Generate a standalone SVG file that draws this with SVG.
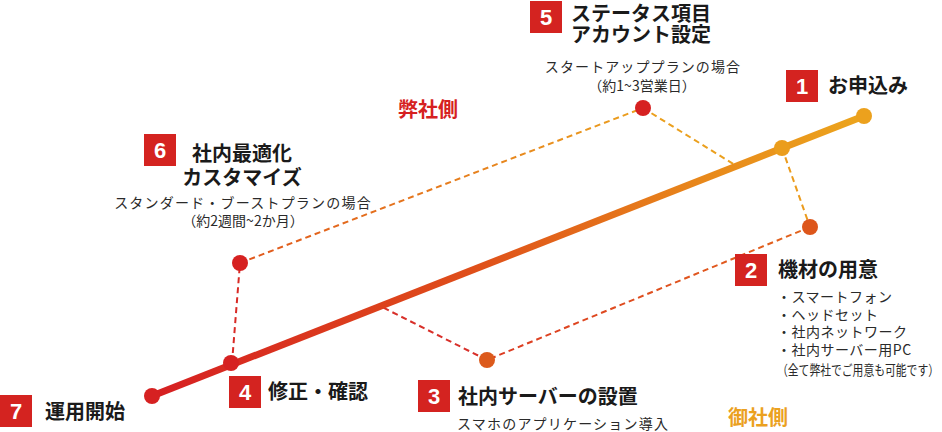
<svg xmlns="http://www.w3.org/2000/svg" width="942" height="432" viewBox="0 0 942 432">
<style>
.t{font-family:"Noto Sans CJK JP","Noto Sans",sans-serif;font-weight:700;font-size:20px;fill:#1a1a1a}
.s{font-family:"Noto Sans CJK JP","Noto Sans",sans-serif;font-weight:400;font-size:14px;fill:#2a2a2a}
.n{font-family:"Liberation Sans",Arial,sans-serif;font-weight:700;font-size:22px;fill:#fff;text-anchor:middle}
.b{fill:#d42320}
.d{fill:none;stroke-width:2;stroke-dasharray:6 4}
</style>
<defs>
<linearGradient id="main" gradientUnits="userSpaceOnUse" x1="152" y1="396" x2="864" y2="116">
<stop offset="0" stop-color="#d61f22"/>
<stop offset="0.45" stop-color="#df4f1a"/>
<stop offset="0.78" stop-color="#e8891b"/>
<stop offset="1" stop-color="#eca51d"/>
</linearGradient>
<linearGradient id="g2" gradientUnits="userSpaceOnUse" x1="810" y1="227" x2="487" y2="360">
<stop offset="0" stop-color="#e2641c"/>
<stop offset="1" stop-color="#dc3a22"/>
</linearGradient>
<linearGradient id="g5" gradientUnits="userSpaceOnUse" x1="240" y1="263" x2="643" y2="108">
<stop offset="0" stop-color="#e0561c"/>
<stop offset="1" stop-color="#eba01e"/>
</linearGradient>
</defs>
<g id="connectors">
<line class="d" x1="782" y1="148" x2="810" y2="227" stroke="#eb9b1c"/>
<line class="d" x1="810" y1="227" x2="487" y2="360" stroke="url(#g2)"/>
<line class="d" x1="487" y1="360" x2="382" y2="307" stroke="#d8302a"/>
<line class="d" x1="232" y1="363" x2="240" y2="263" stroke="#d82a25"/>
<line class="d" x1="240" y1="263" x2="643" y2="108" stroke="url(#g5)"/>
<line class="d" x1="643" y1="108" x2="735" y2="165" stroke="#eba01e"/>
<line x1="152" y1="396" x2="864" y2="116" stroke="url(#main)" stroke-width="7"/>
</g>
<g id="points">
<circle cx="152" cy="396" r="8" fill="#d62121"/>
<circle cx="231" cy="363" r="8" fill="#d62121"/>
<circle cx="240" cy="263" r="8" fill="#d62121"/>
<circle cx="643" cy="108" r="8" fill="#d62121"/>
<circle cx="487" cy="360" r="8" fill="#dc5a1c"/>
<circle cx="810" cy="227" r="8" fill="#dd561b"/>
<circle cx="782" cy="148" r="8" fill="#eb9d1c"/>
<circle cx="864" cy="116" r="8" fill="#eca11d"/>
</g>
<g id="step1">
<rect class="b" x="786" y="70" width="32" height="32"/>
<text class="n" x="802" y="94">1</text>
<text class="t" x="828" y="93">お申込み</text>
</g>
<g id="step2">
<rect class="b" x="735" y="254" width="32" height="32"/>
<text class="n" x="751" y="278">2</text>
<text class="t" x="778" y="277">機材の用意</text>
<text class="s" x="777" y="302" letter-spacing="0.5">・スマートフォン</text>
<text class="s" x="777" y="320" letter-spacing="0.5">・ヘッドセット</text>
<text class="s" x="777" y="337" letter-spacing="0.5">・社内ネットワーク</text>
<text class="s" x="777" y="355" letter-spacing="0.5">・社内サーバー用PC</text>
<text class="s" x="777" y="375" font-size="11" textLength="162" lengthAdjust="spacingAndGlyphs">（全て弊社でご用意も可能です）</text>
</g>
<g id="step3">
<rect class="b" x="418" y="380" width="32" height="32"/>
<text class="n" x="434" y="404">3</text>
<text class="t" x="458" y="404">社内サーバーの設置</text>
<text class="s" x="457" y="429" letter-spacing="1.2">スマホのアプリケーション導入</text>
</g>
<g id="step4">
<rect class="b" x="229" y="376" width="32" height="32"/>
<text class="n" x="245" y="400">4</text>
<text class="t" x="268" y="399">修正・確認</text>
</g>
<g id="step5">
<rect class="b" x="530" y="1" width="32" height="32"/>
<text class="n" x="546" y="25">5</text>
<text class="t" x="571" y="21">ステータス項目</text>
<text class="t" x="571" y="42">アカウント設定</text>
<text class="s" x="643" y="72" text-anchor="middle" letter-spacing="1.1">スタートアッププランの場合</text>
<text class="s" x="642" y="91" text-anchor="middle">（約1~3営業日）</text>
</g>
<g id="step6">
<rect class="b" x="144" y="134" width="32" height="32"/>
<text class="n" x="160" y="158">6</text>
<text class="t" x="242" y="161" text-anchor="middle">社内最適化</text>
<text class="t" x="242" y="185" text-anchor="middle">カスタマイズ</text>
<text class="s" x="243" y="208" text-anchor="middle" letter-spacing="1.2">スタンダード・ブーストプランの場合</text>
<text class="s" x="243" y="226" text-anchor="middle">（約2週間~2か月）</text>
</g>
<g id="step7">
<rect class="b" x="0" y="395" width="32" height="32"/>
<text class="n" x="16" y="419">7</text>
<text class="t" x="45" y="419">運用開始</text>
</g>
<g id="sides">
<text class="t" x="398" y="117" style="fill:#d62121">弊社側</text>
<text class="t" x="728" y="425" style="fill:#eba11f">御社側</text>
</g>
</svg>
